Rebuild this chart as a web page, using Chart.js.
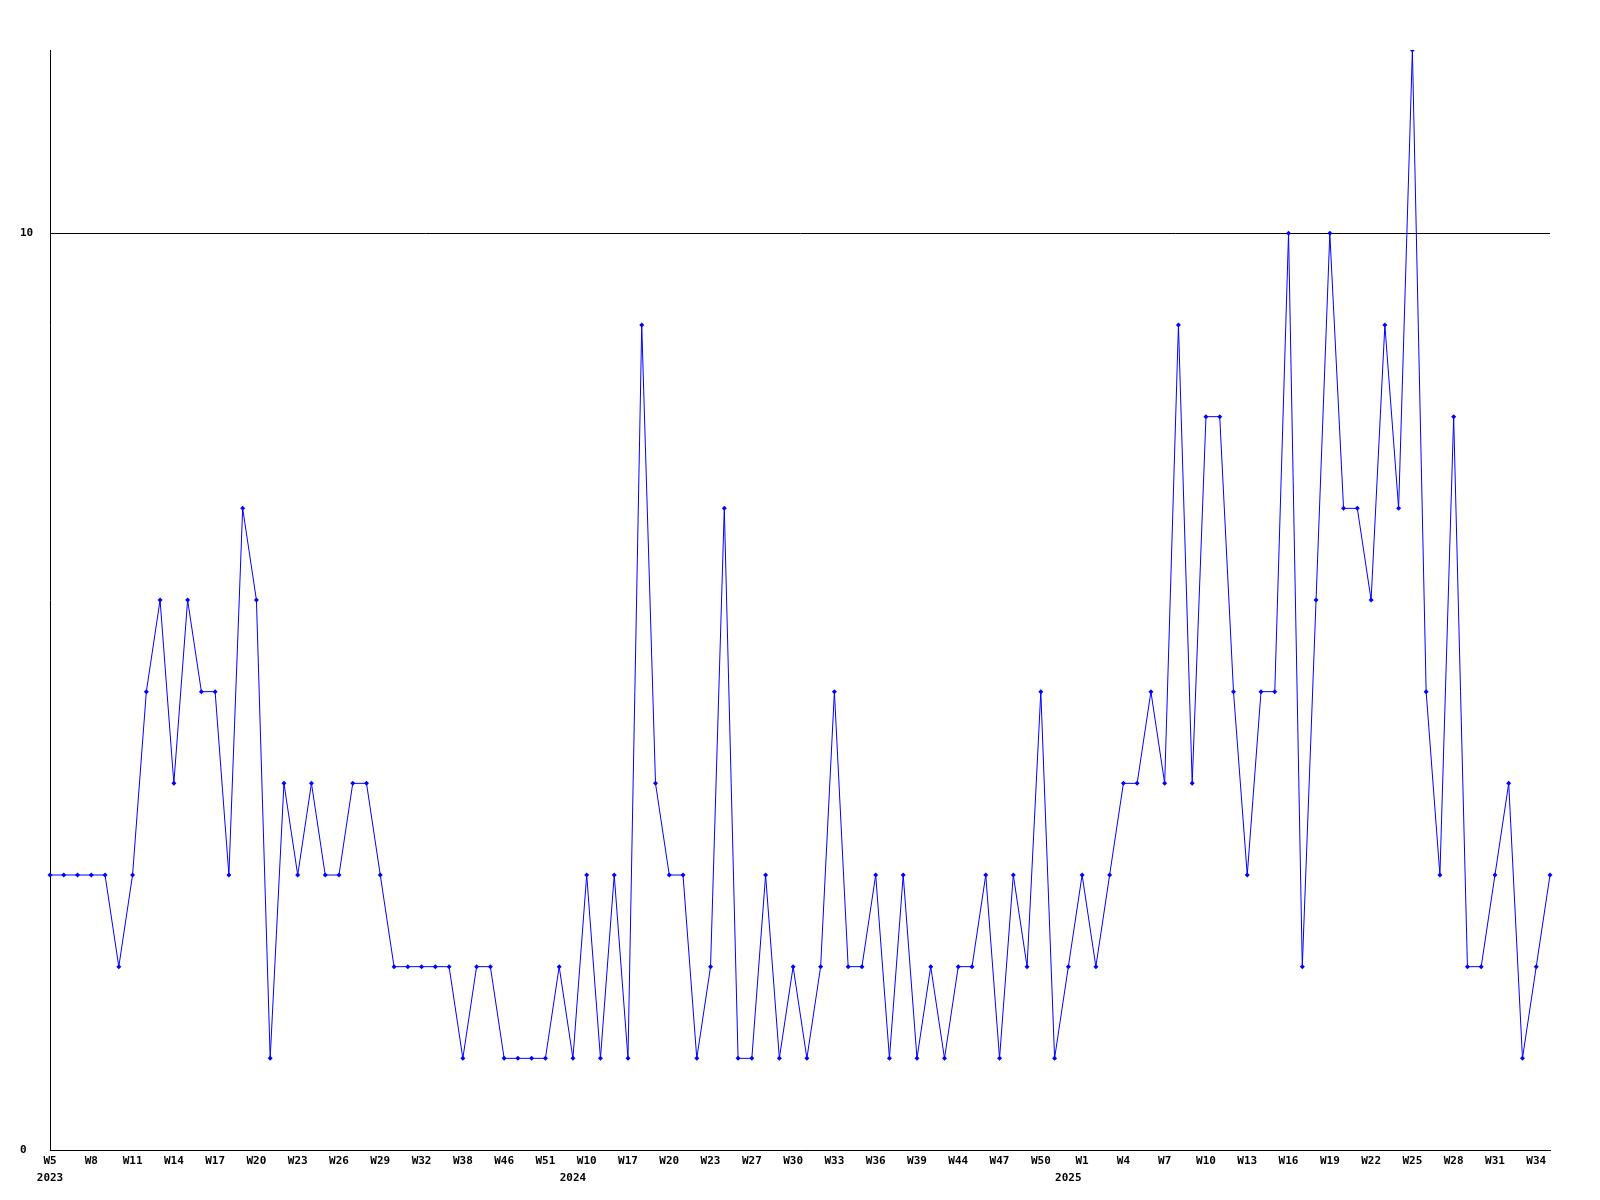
<!DOCTYPE html>
<html>
<head>
<meta charset="utf-8">
<script src="https://cdn.jsdelivr.net/npm/chart.js@4"></script>
<style>
  html, body { margin: 0; padding: 0; background: #fff; }
  #wrap { width: 1600px; height: 1200px; }
</style>
</head>
<body>
<div id="wrap"><canvas id="chart" width="1600" height="1200"></canvas></div>
<script>
// weekly counts, one point per reported week
const weeks = [
    'W5', 'W6', 'W7', 'W8', 'W9', 'W10', 'W11', 'W12', 'W13', 'W14',
    'W15', 'W16', 'W17', 'W18', 'W19', 'W20', 'W21', 'W22', 'W23', 'W24',
    'W25', 'W26', 'W27', 'W28', 'W29', 'W30', 'W31', 'W32', 'W34', 'W36',
    'W38', 'W40', 'W43', 'W46', 'W48', 'W49', 'W51', 'W52', 'W3', 'W10',
    'W12', 'W15', 'W17', 'W18', 'W19', 'W20', 'W21', 'W22', 'W23', 'W24',
    'W25', 'W27', 'W28', 'W29', 'W30', 'W31', 'W32', 'W33', 'W34', 'W35',
    'W36', 'W37', 'W38', 'W39', 'W41', 'W42', 'W44', 'W45', 'W46', 'W47',
    'W48', 'W49', 'W50', 'W51', 'W52', 'W1', 'W2', 'W3', 'W4', 'W5',
    'W6', 'W7', 'W8', 'W9', 'W10', 'W11', 'W12', 'W13', 'W14', 'W15',
    'W16', 'W17', 'W18', 'W19', 'W20', 'W21', 'W22', 'W23', 'W24', 'W25',
    'W26', 'W27', 'W28', 'W29', 'W30', 'W31', 'W32', 'W33', 'W34', 'W35'
];

const counts = [
    3, 3, 3, 3, 3, 2, 3, 5, 6, 4,
    6, 5, 5, 3, 7, 6, 1, 4, 3, 4,
    3, 3, 4, 4, 3, 2, 2, 2, 2, 2,
    1, 2, 2, 1, 1, 1, 1, 2, 1, 3,
    1, 3, 1, 9, 4, 3, 3, 1, 2, 7,
    1, 1, 3, 1, 2, 1, 2, 5, 2, 2,
    3, 1, 3, 1, 2, 1, 2, 2, 3, 1,
    3, 2, 5, 1, 2, 3, 2, 3, 4, 4,
    5, 4, 9, 4, 8, 8, 5, 3, 5, 5,
    10, 2, 6, 10, 7, 7, 6, 9, 7, 12,
    5, 3, 8, 2, 2, 3, 4, 1, 2, 3
];

const years = ['2023', '2024', '2025'];
const yearAt = [0, 38, 74];   // first week of each year in the series
const yTicks = [0, 10];
const labelEvery = 3;

const axisFont = { family: '"DejaVu Sans Mono", monospace', size: 11, weight: 'bold' };

const ctx = document.getElementById('chart').getContext('2d');
new Chart(ctx, {
    type: 'line',
    data: {
        labels: weeks,
        datasets: [{
            data: counts,
            borderColor: '#0000ff',
            backgroundColor: '#0000ff',
            borderWidth: 1,
            tension: 0,
            fill: false,
            pointStyle: 'rectRot',
            pointRadius: 2.5,
            pointBorderWidth: 0,
            pointBackgroundColor: '#0000ff'
        }]
    },
    options: {
        responsive: false,
        animation: false,
        layout: { padding: { left: 20, right: 50, top: 50, bottom: 0 } },
        plugins: {
            legend: { display: false },
            tooltip: { enabled: false }
        },
        scales: {
            x: {
                offset: false,
                weight: 0,
                grid: { display: false, drawTicks: false },
                border: { display: true, color: '#000', width: 1 },
                afterFit: s => { s.height = 20; },
                ticks: {
                    autoSkip: false,
                    maxRotation: 0,
                    minRotation: 0,
                    padding: 5,
                    color: '#000',
                    font: axisFont,
                    callback: (val, i) => (i % labelEvery === 0 ? weeks[i] : '')
                }
            },
            years: {
                type: 'category',
                position: 'bottom',
                offset: false,
                weight: 1,
                grid: { display: false, drawTicks: false },
                border: { display: false },
                afterFit: s => { s.height = 30; },
                ticks: {
                    autoSkip: false,
                    maxRotation: 0,
                    minRotation: 0,
                    padding: 2,
                    color: '#000',
                    font: axisFont,
                    callback: (val, i) => {
                        const y = yearAt.indexOf(i);
                        return y >= 0 ? years[y] : '';
                    }
                }
            },
            y: {
                min: 0,
                max: 12,
                afterFit: s => { s.width = 30; },
                afterBuildTicks: s => { s.ticks = yTicks.map(v => ({ value: v })); },
                grid: { color: '#000', lineWidth: 1, drawTicks: false },
                border: { display: true, color: '#000', width: 1 },
                ticks: {
                    color: '#000',
                    font: axisFont,
                    crossAlign: 'far',
                    padding: 0
                }
            }
        }
    }
});
</script>
</body>
</html>
